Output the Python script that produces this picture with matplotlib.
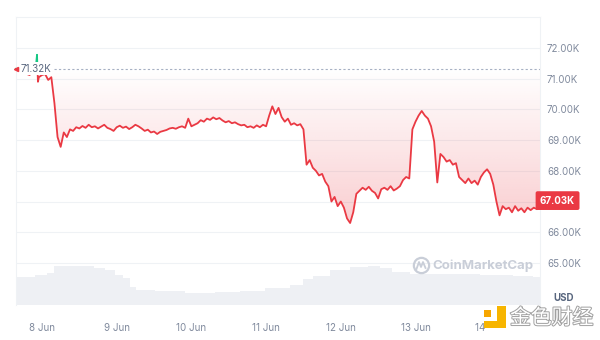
import numpy as np
import matplotlib
matplotlib.use("Agg")
import matplotlib.pyplot as plt
import matplotlib.patheffects as pe
from matplotlib.path import Path
from matplotlib.patches import Rectangle
from matplotlib.lines import Line2D

plt.rcParams['font.family'] = ['Inter', 'DejaVu Sans']

# hours since 8 Jun 00:00
hours = [-8.35, -8, -7, -6, -5, -4, -3, -2, -1.6, -1.3, -1, 0, 1, 2, 3] + list(range(4, 161))
prices = [
    71.32, 71.30, 71.26, 71.20, 71.16, 71.12, 71.22, 71.35, 71.78, 70.90, 71.05, 71.12, 71.15, 70.96, 71.05,
    70.20, 69.10, 68.78, 69.25, 69.10, 69.35, 69.30, 69.42, 69.38, 69.46,
    69.40, 69.50, 69.42, 69.45, 69.38, 69.44, 69.50, 69.40, 69.36, 69.30,
    69.42, 69.47, 69.40, 69.44, 69.36, 69.42, 69.50, 69.45, 69.38, 69.30,
    69.34, 69.25, 69.28, 69.20, 69.27, 69.30, 69.33, 69.38, 69.40, 69.37,
    69.42, 69.45, 69.40, 69.70, 69.45, 69.50, 69.55, 69.65, 69.60, 69.70,
    69.66, 69.74, 69.68, 69.72, 69.64, 69.58, 69.62, 69.55, 69.58, 69.52,
    69.48, 69.50, 69.42, 69.45, 69.40, 69.48, 69.42, 69.50, 69.45, 69.80,
    70.10, 69.85, 70.05, 69.75, 69.60, 69.70, 69.50, 69.55, 69.48, 69.52,
    69.35, 68.20, 68.35, 68.10, 68.00, 67.85, 67.90, 67.65, 67.50, 67.00,
    67.15, 66.85, 67.00, 66.80, 66.45, 66.30, 66.65, 67.25, 67.35, 67.45,
    67.38, 67.48, 67.35, 67.28, 67.10, 67.40, 67.45, 67.38, 67.50, 67.36,
    67.42, 67.50, 67.70, 67.80, 67.75, 69.35, 69.60, 69.80, 69.95, 69.80,
    69.70, 69.45, 68.95, 67.62, 68.55, 68.45, 68.30, 68.35, 68.20, 68.25,
    67.80, 67.70, 67.60, 67.75, 67.60, 67.68, 67.55, 67.80, 67.95, 68.05,
    67.90, 67.55, 67.00, 66.55, 66.85, 66.75, 66.80, 66.65, 66.85, 66.70,
    66.78, 66.65, 66.80, 66.72, 66.80, 66.75, 67.03,
]

vol_hours = [-8.35, -2.9, -1.9, -0.6, 3.5, 4.5, 14.5, 18.6, 21.8, 25, 27.3, 29.2, 31.5,
             41, 50.8, 60.4, 66.8, 76.5, 82.9, 84.8, 89.3, 95.7, 102.2, 107, 110.2,
             115, 121.5, 134.3, 147.2, 155.2, 160]
volume = [2.8, 2.8, 3.0, 3.0, 3.2, 3.9, 3.9, 3.7, 3.5, 3.0, 2.7, 1.8, 1.5,
          1.4, 1.2, 1.3, 1.4, 1.7, 2.0, 2.6, 2.9, 3.5, 3.8, 3.9, 3.7,
          3.3, 3.1, 3.1, 3.0, 2.9, 2.8]

baseline = 71.32
last_price = 67.03
y_ticks = [65, 66, 67, 68, 69, 70, 71, 72]
day_ticks = [0, 24, 48, 72, 96, 120, 144]
day_labels = ["8 Jun", "9 Jun", "10 Jun", "11 Jun", "12 Jun", "13 Jun", "14 Jun"]

RED = '#ea3943'
GREEN = '#16c784'
GRID = '#eff2f5'
TXT = '#808a9d'

fig = plt.figure(figsize=(6, 3.4), dpi=100)
rect = [16 / 600, 35 / 340, 524 / 600, 288 / 340]

axv = fig.add_axes(rect)
axv.fill_between(vol_hours, volume, 0, color='#eef0f4', lw=0, step='mid')
axv.set_xlim(-8.35, 160)
axv.set_ylim(0, 28.8)
axv.axis('off')

ax = fig.add_axes(rect)
ax.patch.set_alpha(0)
ax.set_xlim(-8.35, 160)
ax.set_ylim(63.63, 73.01)

for v in y_ticks:
    ax.axhline(v, color=GRID, lw=0.8, zorder=0)

h = np.array(hours)
p = np.array(prices)

# gradient fill between line and baseline (below baseline)
poly = ax.fill_between(h, p, baseline, where=p < baseline, interpolate=True,
                       facecolor='none', edgecolor='none')
clip = Path.make_compound_path(*poly.get_paths())
grad = np.zeros((200, 2, 4))
grad[..., 0] = 234 / 255
grad[..., 1] = 57 / 255
grad[..., 2] = 67 / 255
grad[..., 3] = np.linspace(0.26, 0.0, 200)[:, None]
im = ax.imshow(grad, extent=[-8.35, 160, 66.0, baseline], origin='lower',
               aspect='auto', zorder=1, interpolation='bilinear')
im.set_clip_path(clip, transform=ax.transData)

ln_r, = ax.plot(h, p, color=RED, lw=1.3, zorder=3, solid_joinstyle='round')
ln_g, = ax.plot(h, p, color=GREEN, lw=1.3, zorder=3, solid_joinstyle='round')
below = Rectangle((-20, 60), 200, baseline - 60, transform=ax.transData)
above = Rectangle((-20, baseline), 200, 20, transform=ax.transData)
ln_r.set_clip_path(below)
ln_g.set_clip_path(above)

ax.axhline(baseline, xmin=(4.0 + 8.35) / 168.35, color='#a6b0c3', lw=0.8,
           ls=(0, (2, 2)), zorder=2)
ax.text(-7.0, baseline, "71.32K", fontsize=7, color='#58667e', va='center',
        ha='left', zorder=5,
        bbox=dict(boxstyle='square,pad=0.15', fc='white', ec='none'))
ax.plot([-8.35], [baseline], marker='<', color=RED, ms=3, zorder=6, clip_on=False)

for s in ['left', 'right', 'top']:
    ax.spines[s].set_color('#eff2f5')
    ax.spines[s].set_linewidth(0.8)
ax.spines['bottom'].set_visible(False)

ax.yaxis.tick_right()
ax.set_yticks(y_ticks)
# the 67.00K label sits under the current-price tag
ax.set_yticklabels(["" if v == 67 else f"{v:.2f}K" for v in y_ticks])
ax.tick_params(axis='y', length=0, pad=5, labelsize=7, labelcolor=TXT)
ax.set_xticks(day_ticks)
ax.set_xticklabels(day_labels)
ax.tick_params(axis='x', length=0, pad=13, labelsize=7, labelcolor=TXT)

ax.text(1.0, last_price, f"{last_price:.2f}K", transform=ax.get_yaxis_transform(),
        fontsize=7, color='white', va='center', ha='left', fontweight='bold', zorder=7,
        bbox=dict(boxstyle='round,pad=0.45,rounding_size=0.2', fc=RED, ec='none'))

fig.text(553 / 600, 1 - 298 / 340, "USD", fontsize=7, color='#58667e',
         fontweight='bold', va='center', ha='left')

# CoinMarketCap watermark
fig.add_artist(Line2D([421 / 600], [1 - 265 / 340], marker='o', ms=11,
                      mfc='none', mec='#c9ced8', mew=1.6))
fig.add_artist(Line2D([416.5 / 600, 419 / 600, 421 / 600, 423 / 600, 425.5 / 600],
                      [1 - 269 / 340, 1 - 262 / 340, 1 - 267 / 340, 1 - 262 / 340, 1 - 268 / 340],
                      color='#c9ced8', lw=1.3))
fig.text(432 / 600, 1 - 266 / 340, "CoinMarketCap", fontsize=9.5, color='#c9ced8',
         va='center', ha='left', fontweight='bold')

# 金色财经 watermark
fig.add_artist(Rectangle((487 / 600, 1 - 333 / 340), 22 / 600, 28 / 340,
                         transform=fig.transFigure, fc='white', ec='none', zorder=8))
fig.add_artist(Rectangle((484 / 600, 1 - 317 / 340), 7 / 600, 7 / 340,
                         transform=fig.transFigure, fc='#f7a600', ec='none', zorder=9))
fig.add_artist(Rectangle((497 / 600, 1 - 328 / 340), 9 / 600, 22 / 340,
                         transform=fig.transFigure, fc='#f7b500', ec='none', zorder=9))
fig.add_artist(Rectangle((484 / 600, 1 - 328 / 340), 22 / 600, 7 / 340,
                         transform=fig.transFigure, fc='#f7b500', ec='none', zorder=9))
fig.text(510 / 600, 1 - 318 / 340, "金色财经", fontsize=15, color='white',
         family=['Noto Sans CJK SC', 'DejaVu Sans'], va='center', ha='left', zorder=9,
         path_effects=[pe.withStroke(linewidth=1.4, foreground='#a0a0a0')])

fig.savefig("out.png", dpi=100)
